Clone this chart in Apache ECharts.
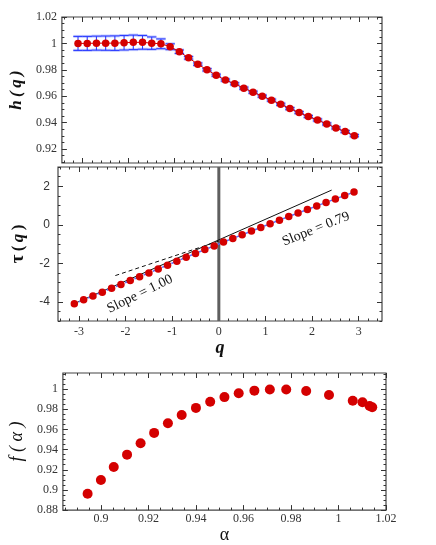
<!DOCTYPE html>
<html>
<head>
<meta charset="utf-8">
<script src="https://cdn.jsdelivr.net/npm/echarts@6/dist/echarts.min.js"></script>
<style>
  html, body { margin: 0; background: #fff; }
  #main { width: 436px; height: 545px; }
</style>
</head>
<body>
<div id="main"></div>
<script>
// q 轴上的点
const qValues = [-3.1, -2.9, -2.7, -2.5, -2.3, -2.1, -1.9, -1.7, -1.5, -1.3, -1.1, -0.9, -0.7, -0.5, -0.3, -0.1,
  0.1, 0.3, 0.5, 0.7, 0.9, 1.1, 1.3, 1.5, 1.7, 1.9, 2.1, 2.3, 2.5, 2.7, 2.9]
// h(q) 及误差
const hValues = [1.000, 1.000, 1.0002, 1.0002, 1.0002, 1.0005, 1.0008, 1.0008, 1.0002, 0.9997, 0.9975, 0.9937,
  0.9891, 0.9843, 0.980, 0.9759, 0.9722, 0.9694, 0.9661, 0.963, 0.960, 0.957, 0.9539, 0.9506, 0.9476, 0.9446,
  0.942, 0.939, 0.936, 0.9332, 0.9301]
const hErrors = [0.0053, 0.0053, 0.0053, 0.0054, 0.0055, 0.0055, 0.0055, 0.0052, 0.0047, 0.0037, 0.0022, 0.0013,
  0.001, 0.0009, 0.0009, 0.0008, 0.0008, 0.0008, 0.0008, 0.0008, 0.0008, 0.0008, 0.0008, 0.0008, 0.0008, 0.0008,
  0.0008, 0.0008, 0.0008, 0.0008, 0.0008]
// tau(q)
const tauValues = [-4.10, -3.90, -3.70, -3.50, -3.30, -3.10, -2.90, -2.70, -2.50, -2.30, -2.10, -1.89, -1.69, -1.49,
  -1.29, -1.10, -0.90, -0.71, -0.52, -0.33, -0.14, 0.05, 0.24, 0.43, 0.61, 0.79, 0.98, 1.16, 1.34, 1.52, 1.70]
const slopeOneLine = [[-3.15, -4.15], [2.42, 1.8]]
const slopeDashLine = [[-2.22, -2.64], [0, -0.85]]
const zeroLine = [[0, -5], [0, 3]]
// f(alpha) 谱
const alphaValues = [0.8944, 0.9, 0.9054, 0.911, 0.9167, 0.9224, 0.9282, 0.934, 0.94, 0.946, 0.952, 0.958,
  0.9646, 0.9711, 0.978, 0.9864, 0.996, 1.006, 1.0101, 1.0131, 1.0142]
const fValues = [0.8962, 0.9099, 0.9227, 0.935, 0.9463, 0.9566, 0.9661, 0.9744, 0.9814, 0.9875, 0.9921, 0.996,
  0.9985, 0.9997, 0.9997, 0.9982, 0.9942, 0.9884, 0.9869, 0.9832, 0.982]
// 刻度标签
const hTicks = [0.92, 0.94, 0.96, 0.98, 1, 1.02]
const qTicks = [-3, -2, -1, 0, 1, 2, 3]
const tauTicks = [-4, -2, 0, 2]
const alphaTicks = [0.9, 0.92, 0.94, 0.96, 0.98, 1, 1.02]
const fTicks = [0.88, 0.9, 0.92, 0.94, 0.96, 0.98, 1]

const serif = 'Liberation Serif'
const sans = 'Liberation Sans'
const red = '#d40000'

function steps(min, max, step) {
  const out = []
  for (let i = Math.ceil(min / step - 1e-6); i <= Math.floor(max / step + 1e-6); i++) {
    out.push(+(i * step).toFixed(6))
  }
  return out
}

const xAxes = []
const yAxes = []
// 每个边：主刻度 + 次刻度（刻度朝内）
function addSide(list, grid, pos, min, max, majors, minorStep, label, extra) {
  const base = {
    type: 'value', gridIndex: grid, min, max, position: pos,
    axisLine: { show: false, onZero: false }, splitLine: { show: false }
  }
  const idx = list.length
  list.push(Object.assign({}, base, extra || {}, {
    axisTick: { inside: true, length: 5, customValues: majors, lineStyle: { color: '#333' } },
    axisLabel: label ? Object.assign({ customValues: majors, color: '#333', fontSize: 12 }, label) : { show: false }
  }))
  list.push(Object.assign({}, base, {
    axisTick: { inside: true, length: 2.5, customValues: steps(min, max, minorStep), lineStyle: { color: '#333' } },
    axisLabel: { show: false }
  }))
  return idx
}

// top panel
const topX = addSide(xAxes, 0, 'bottom', -3.45, 3.5, qTicks, 0.2, null)
addSide(xAxes, 0, 'top', -3.45, 3.5, qTicks, 0.2, null)
const topY = addSide(yAxes, 0, 'left', 0.9094, 1.02, hTicks, 0.005, { fontFamily: serif, margin: 5 }, {
  name: 'h\u2009(\u2009q\u2009)', nameLocation: 'middle', nameGap: 33, nameRotate: 90,
  nameTextStyle: { fontFamily: serif, fontSize: 17, fontWeight: 'bold', fontStyle: 'italic', color: '#111' }
})
addSide(yAxes, 0, 'right', 0.9094, 1.02, hTicks, 0.005, null)

// middle panel
const midX = addSide(xAxes, 1, 'bottom', -3.45, 3.5, qTicks, 0.2, { fontFamily: serif, margin: 5 }, {
  name: 'q', nameLocation: 'middle', nameGap: 15,
  nameTextStyle: { fontFamily: serif, fontSize: 18, fontWeight: 'bold', fontStyle: 'italic', color: '#111' }
})
addSide(xAxes, 1, 'top', -3.45, 3.5, qTicks, 0.2, null)
const midY = addSide(yAxes, 1, 'left', -5, 3, tauTicks, 0.5, { fontFamily: sans, margin: 8 }, {
  name: '{t|τ} {p|(} {q|q} {p|)}', nameLocation: 'middle', nameGap: 30, nameRotate: 90,
  nameTextStyle: {
    rich: {
      t: { fontFamily: serif, fontSize: 19, fontWeight: 'bold', color: '#111' },
      p: { fontFamily: serif, fontSize: 17, fontWeight: 'bold', color: '#111' },
      q: { fontFamily: serif, fontSize: 17, fontWeight: 'bold', fontStyle: 'italic', color: '#111' }
    }
  }
})
addSide(yAxes, 1, 'right', -5, 3, tauTicks, 0.5, null)

// bottom panel
const botX = addSide(xAxes, 2, 'bottom', 0.884, 1.02, alphaTicks, 0.005, { fontFamily: serif, margin: 3 }, {
  name: 'α', nameLocation: 'middle', nameGap: 7,
  nameTextStyle: { fontFamily: serif, fontSize: 18, color: '#111' }
})
addSide(xAxes, 2, 'top', 0.884, 1.02, alphaTicks, 0.005, null)
const botY = addSide(yAxes, 2, 'left', 0.88, 1.016, fTicks, 0.005, { fontFamily: serif, margin: 5 }, {
  name: 'f ( α )', nameLocation: 'middle', nameGap: 33, nameRotate: 90,
  nameTextStyle: { fontFamily: serif, fontSize: 18, fontStyle: 'italic', color: '#111' }
})
addSide(yAxes, 2, 'right', 0.88, 1.016, fTicks, 0.005, null)

const gridStyle = { show: true, borderColor: '#444', borderWidth: 1.2, backgroundColor: 'transparent' }

const chart = echarts.init(document.getElementById('main'), null, { renderer: 'canvas' })
chart.setOption({
  animation: false,
  grid: [
    Object.assign({ left: 58, width: 324, top: 17, height: 146 }, gridStyle),
    Object.assign({ left: 58, width: 324, top: 167, height: 154 }, gridStyle),
    Object.assign({ left: 60, width: 326, top: 373, height: 148 }, gridStyle)
  ],
  xAxis: xAxes,
  yAxis: yAxes,
  graphic: [
    {
      type: 'text', x: 140, y: 294, rotation: 26 * Math.PI / 180,
      style: { text: 'Slope = 1.00', fontFamily: serif, fontSize: 14, fill: '#111', align: 'center', verticalAlign: 'middle' }
    },
    {
      type: 'text', x: 316, y: 229, rotation: 22 * Math.PI / 180,
      style: { text: 'Slope = 0.79', fontFamily: serif, fontSize: 14, fill: '#111', align: 'center', verticalAlign: 'middle' }
    }
  ],
  series: [
    {
      // 误差棒
      type: 'custom',
      xAxisIndex: topX,
      yAxisIndex: topY,
      z: 2,
      data: qValues.map((q, i) => [q, hValues[i] - hErrors[i], hValues[i] + hErrors[i]]),
      renderItem(params, api) {
        const top = api.coord([api.value(0), api.value(2)])
        const bot = api.coord([api.value(0), api.value(1)])
        const w = 4.7
        const seg = (x1, y1, x2, y2) => ({
          type: 'line', shape: { x1, y1, x2, y2 }, style: { stroke: '#2c3cff', lineWidth: 1.1 }
        })
        const halo = (x1, y1, x2, y2) => ({
          type: 'line', shape: { x1, y1, x2, y2 }, style: { stroke: 'rgba(90,110,255,0.35)', lineWidth: 3 }
        })
        return {
          type: 'group',
          children: [
            halo(top[0] - w, top[1], top[0] + w, top[1]),
            halo(bot[0] - w, bot[1], bot[0] + w, bot[1]),
            seg(top[0], top[1], bot[0], bot[1]),
            seg(top[0] - w, top[1], top[0] + w, top[1]),
            seg(bot[0] - w, bot[1], bot[0] + w, bot[1])
          ]
        }
      }
    },
    {
      type: 'line',
      xAxisIndex: topX,
      yAxisIndex: topY,
      z: 3,
      data: qValues.map((q, i) => [q, hValues[i]]),
      symbol: 'circle',
      symbolSize: 7.5,
      itemStyle: { color: red },
      lineStyle: { color: red, width: 1 }
    },
    {
      type: 'line',
      xAxisIndex: midX,
      yAxisIndex: midY,
      data: zeroLine,
      symbol: 'none',
      lineStyle: { color: '#5f5f5f', width: 3 }
    },
    {
      type: 'line',
      xAxisIndex: midX,
      yAxisIndex: midY,
      data: slopeOneLine,
      symbol: 'none',
      lineStyle: { color: '#111', width: 1 }
    },
    {
      type: 'line',
      xAxisIndex: midX,
      yAxisIndex: midY,
      data: slopeDashLine,
      symbol: 'none',
      lineStyle: { color: '#111', width: 1, type: [4, 3] }
    },
    {
      type: 'line',
      xAxisIndex: midX,
      yAxisIndex: midY,
      z: 3,
      data: qValues.map((q, i) => [q, tauValues[i]]),
      symbol: 'circle',
      symbolSize: 7.5,
      itemStyle: { color: red },
      lineStyle: { color: '#5a6cff', width: 1.5, type: [3, 2] }
    },
    {
      type: 'scatter',
      xAxisIndex: botX,
      yAxisIndex: botY,
      data: alphaValues.map((a, i) => [a, fValues[i]]),
      symbolSize: 10,
      itemStyle: { color: red, opacity: 1 }
    }
  ]
})
</script>
</body>
</html>
